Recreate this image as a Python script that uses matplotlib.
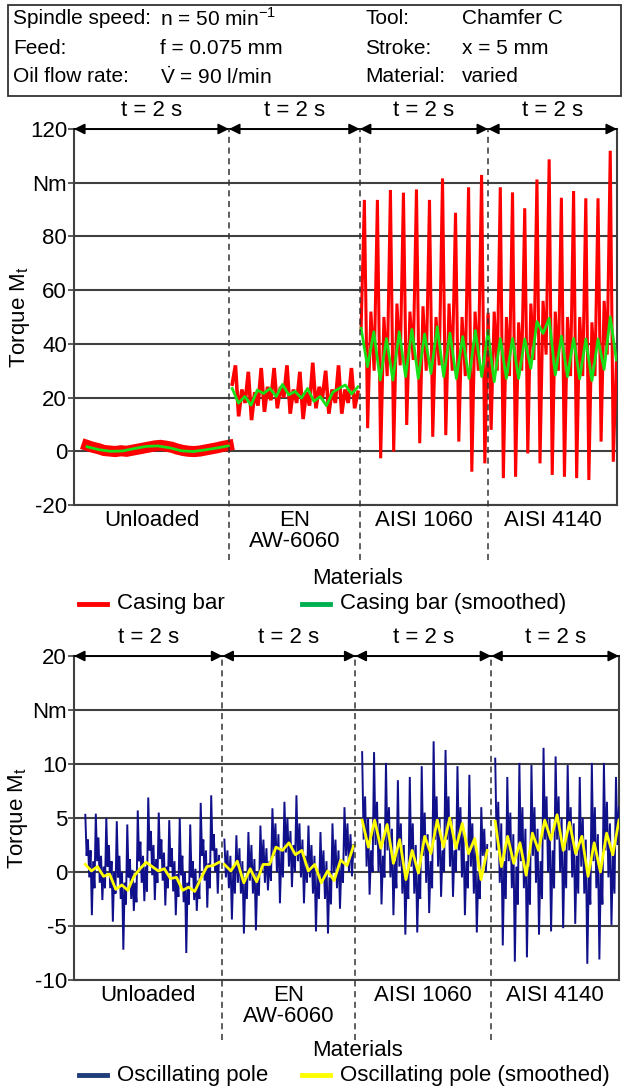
import numpy as np
import matplotlib.pyplot as plt
from matplotlib.lines import Line2D
from matplotlib.patches import Rectangle

plt.rcParams['font.family'] = ['Liberation Sans', 'DejaVu Sans']
plt.rcParams['mathtext.fontset'] = 'custom'
plt.rcParams['mathtext.rm'] = 'Liberation Sans'
plt.rcParams['font.size'] = 16

# --- data ---
materials = ['Unloaded', 'EN\nAW-6060', 'AISI 1060', 'AISI 4140']

# section borders and recorded spans (time axis, s)
top_edges = [0.0, 2.38, 4.39, 6.36, 8.34]
top_spans = [(0.20, 2.37), (2.43, 4.36), (4.41, 6.36), (6.36, 8.33)]
bot_edges = [0.0, 2.23, 4.23, 6.27, 8.19]
bot_spans = [(0.17, 2.18), (2.26, 4.20), (4.33, 6.21), (6.33, 8.19)]

# casing bar, raw torque (Nm)
casing_unloaded = [2.2, 1.5, 1.0, 0.3, 0.1, -0.1, 0.2, 0.0, 0.4, 0.8, 1.2, 1.6, 2.0,
                   2.2, 1.9, 1.5, 0.8, 0.3, 0.0, -0.1, 0.1, 0.5, 0.9, 1.3, 1.8, 2.2]
casing_en = [25, 32, 13, 23, 18, 29.6, 11.6, 22, 17, 31, 14.7, 24, 19, 31, 16, 24, 20,
             32, 14, 23, 18, 29.6, 12, 22, 17, 33, 16, 24, 20, 30, 14, 23, 18, 32, 14,
             23, 18, 31, 16, 22]
casing_1060 = [46, 93.6, 8.6, 52, 30, 93.6, -2.6, 50, 28, 97.3, -0.1, 55, 32, 96.3, 9.8,
               52, 34, 97.5, 3, 54, 30, 93.6, 5.4, 50, 32, 101.6, 6, 55, 30, 88.8, 3.6,
               50, 28, 98.3, -7.6, 52, 30, 102.9, -4.5, 51]
casing_4140 = [50, 8, 52, 30, 98.3, -10, 50, 28, 96.4, -9.5, 48, 30, 90.5, -0.8, 55, 34,
               101.2, -4.5, 56, 36, 108.7, -8.8, 52, 30, 94.4, -9.5, 50, 28, 96.9, -10,
               50, 28, 94.2, -10.7, 48, 28, 94.2, 3.6, 56, 36, 111.9, -3.9, 33]

# casing bar, smoothed
casing_s_unloaded = [1.7, 0.6, 0.0, 0.1, 1.0, 1.8, 2.0, 1.3, 0.2, -0.1, 0.5, 1.2, 2.0]
casing_s_en = [23.4, 17.9, 20.4, 17.2, 22.8, 21.5, 23.4, 20.4, 24.9, 21.0, 22.3, 19.8,
               23.4, 18.6, 20.4, 17.0, 22.0, 23.4, 24.7, 21.3, 24.0]
casing_s_1060 = [45.8, 31.5, 44.5, 26.5, 42.0, 26.5, 44.5, 27.8, 45.4, 27.1, 43.7, 29.0,
                 46.4, 27.8, 44.0, 27.1, 42.7, 27.1, 45.0, 27.8, 45.0]
casing_s_4140 = [43.9, 25.9, 42.0, 27.1, 42.0, 27.1, 41.8, 30.9, 48.3, 43.9, 49.5, 28.4,
                 42.9, 27.8, 42.0, 27.0, 41.8, 26.3, 41.8, 30.5, 50.1, 34.0]

# oscillating pole, raw torque (Nm), one row per revolution
pole_unloaded = sum([
    [5.3, 1.5, 3.0, -0.5, 2.0, -4.0, 1.0, -1.5],
    [5.4, 1.0, 3.2, -1.0, 1.5, -2.6, 0.5, -1.5],
    [5.0, 0.5, 2.5, -1.5, 1.0, -4.6, 0.0, -2.0],
    [4.7, -0.5, 1.5, -2.5, 0.0, -7.2, -1.0, -3.0],
    [4.4, -0.5, 1.2, -2.5, 0.2, -3.6, -1.0, -2.8],
    [5.7, 1.0, 2.8, -1.0, 1.5, -2.7, 0.5, -1.8],
    [6.9, 2.0, 3.8, -0.3, 2.5, -2.6, 1.2, -1.0],
    [5.5, 1.2, 3.0, -0.8, 1.8, -3.1, 0.5, -1.5],
    [4.8, 0.5, 2.2, -1.8, 1.0, -4.0, -0.2, -2.3],
    [5.0, -0.3, 1.5, -2.8, 0.0, -7.5, -1.0, -3.0],
    [4.4, -0.5, 1.0, -2.6, 0.3, -3.6, -0.8, -2.5],
    [6.4, 1.5, 3.0, -0.8, 2.0, -3.3, 0.8, -1.5],
    [7.1, 2.0, 3.5, 0.0, 2.2, -2.0, 1.5]], [])
pole_en = sum([
    [3.0, -0.5, 2.0, -1.5, 1.5, -4.4, 0.5, -2.0],
    [3.4, -1.0, 2.2, -2.0, 1.0, -5.7, -0.5, -2.5],
    [3.7, -0.8, 2.5, -2.0, 1.2, -5.4, 0.0, -2.2],
    [4.3, 0.0, 3.0, -1.0, 2.2, -1.7, 1.0, -0.8],
    [5.9, 1.5, 4.5, 0.0, 3.5, -2.9, 2.0, -0.5],
    [6.5, 1.8, 5.0, 0.5, 3.8, -1.4, 2.5, 0.0],
    [7.1, 1.0, 4.5, -0.5, 3.0, -2.9, 1.5, -1.0],
    [4.3, -0.5, 2.5, -2.0, 1.5, -5.5, 0.0, -2.5],
    [3.7, -1.0, 2.0, -2.5, 1.0, -5.7, -0.5, -3.0],
    [4.5, 0.0, 3.0, -1.5, 2.0, -3.4, 1.0, -1.0],
    [6.0, 1.5, 4.5, 0.0, 3.5, -0.4, 2.5]], [])
pole_1060 = sum([
    [11.1, 3.0, 7.0, 0.5, 5.0, -2.1, 2.0, 0.0],
    [11.1, 2.5, 6.5, 0.0, 4.5, -3.0, 1.5, -0.5],
    [10.1, 2.0, 6.0, -0.5, 4.0, -4.0, 1.0, -1.5],
    [8.5, 0.5, 4.5, -2.0, 2.5, -5.8, 0.0, -2.5],
    [8.8, 0.5, 4.5, -2.0, 2.5, -5.6, 0.0, -2.5],
    [9.8, 1.5, 5.5, -1.0, 3.5, -3.8, 1.0, -1.5],
    [12.1, 3.0, 7.0, 0.5, 5.0, -2.3, 2.0, 0.0],
    [11.3, 3.0, 7.0, 0.5, 5.0, -2.3, 2.0, 0.0],
    [9.8, 2.0, 6.0, -0.5, 4.0, -4.0, 1.0, -1.5],
    [9.0, 0.5, 4.5, -2.0, 2.5, -5.6, 0.0, -2.5],
    [6.0, 1.5, 4.0, 0.0, 2.5]], [])
pole_4140 = sum([
    [10.5, 2.0, 6.5, -1.0, 4.5, -6.8, 1.0, -2.5],
    [8.8, 1.0, 5.5, -1.5, 3.5, -8.3, 0.5, -3.0],
    [10.1, 1.0, 6.0, -1.5, 4.0, -7.9, 0.5, -3.0],
    [9.9, 1.5, 6.0, -1.0, 4.0, -5.8, 1.0, -2.5],
    [11.5, 3.0, 7.0, 0.0, 5.0, -5.5, 2.0, -1.5],
    [10.7, 3.0, 7.0, 0.0, 5.0, -5.2, 2.0, -1.5],
    [9.9, 2.0, 6.0, -0.5, 4.5, -4.8, 1.5, -2.0],
    [8.8, 0.5, 5.0, -2.0, 3.0, -8.5, 0.0, -3.0],
    [10.1, 1.0, 6.0, -1.5, 3.5, -8.1, 0.5, -3.0],
    [10.1, 2.0, 6.5, -0.5, 4.5, -4.9, 1.5, -2.0],
    [8.8, 2.5, 6.0]], [])

# oscillating pole, smoothed
pole_s_unloaded = [0.7, 0.1, 0.5, -0.4, -0.2, -1.6, -1.2, -1.7, -0.4, 0.3, 0.9, 0.5,
                   0.1, 0.3, -0.6, -0.5, -1.7, -1.4, -1.8, -0.6, 0.5, 0.6, 0.9]
pole_s_en = [0.7, 0.1, 1.0, -1.0, 0.3, -0.9, 0.7, 0.7, 2.3, 2.0, 2.7, 1.6, 2.0, 0.1,
             0.7, -1.0, 0.1, -0.8, 1.1, 0.6, 2.4]
pole_s_1060 = [4.8, 2.3, 4.8, 2.2, 4.4, 0.8, 3.0, -0.7, 2.0, -0.1, 3.3, 1.7, 4.8, 2.3,
               5.0, 2.2, 4.5, 1.7, 3.1, -0.7, 2.0]
pole_s_4140 = [4.7, 0.5, 3.3, 0.8, 2.7, -0.3, 3.6, 2.0, 4.8, 3.0, 5.3, 2.0, 4.6, 1.7,
               3.3, -0.4, 2.7, 0.0, 3.6, 1.6, 4.8]

top_ticks = [-20, 0, 20, 40, 60, 80, 100, 120]
top_ticklabels = ['-20', '0', '20', '40', '60', '80', 'Nm', '120']
bot_ticks = [-10, -5, 0, 5, 10, 15, 20]
bot_ticklabels = ['-10', '-5', '0', '5', '10', 'Nm', '20']

header = [('Spindle speed:', 'n = 50 min$^{\\mathregular{-1}}$', 'Tool:', 'Chamfer C'),
          ('Feed:', 'f = 0.075 mm', 'Stroke:', 'x = 5 mm'),
          ('Oil flow rate:', '$\\dot{\\mathrm{V}}$ = 90 l/min', 'Material:', 'varied')]

W, H = 630, 1090
fx = lambda px: px / W
fy = lambda py: 1 - py / H

fig = plt.figure(figsize=(6.3, 10.9), dpi=100)


def panel(ax, edges, spans, raw, smooth, c_raw, c_smooth, lw_raw, ticks, labels, ylim,
          dash_ext, lab_y):
    for i, (a, b) in enumerate(spans):
        ax.plot(np.linspace(a, b, len(raw[i])), raw[i], color=c_raw, lw=lw_raw[i],
                solid_joinstyle='miter', zorder=3)
        ax.plot(np.linspace(a, b, len(smooth[i])), smooth[i], color=c_smooth, lw=2.0,
                zorder=4)
    ax.set_xlim(edges[0], edges[-1])
    ax.set_ylim(*ylim)
    ax.set_yticks(ticks)
    ax.set_yticklabels(labels)
    ax.set_xticks([])
    ax.yaxis.grid(True, color='#404040', lw=1.5)
    ax.set_axisbelow(True)
    ax.tick_params(axis='y', length=4, width=1.2, color='#404040', pad=1)
    for s in ['left', 'right', 'bottom']:
        ax.spines[s].set_color('#404040')
        ax.spines[s].set_linewidth(1.5)
    ax.spines['top'].set_visible(False)
    for e in edges[1:-1]:
        ax.axvline(e, ymin=-dash_ext, ymax=1, color='#333333', lw=1.1,
                   ls=(0, (4, 3)), clip_on=False, zorder=5)
    for i in range(4):
        for p, q in [(edges[i + 1], edges[i]), (edges[i], edges[i + 1])]:
            ax.annotate('', xy=(p, ylim[1]), xytext=(q, ylim[1]),
                        arrowprops=dict(arrowstyle='-|>', color='black', lw=1.2,
                                        mutation_scale=16, shrinkA=0, shrinkB=0),
                        annotation_clip=False)
        mid = (edges[i] + edges[i + 1]) / 2
        ax.annotate('t = 2 s', xy=(mid, ylim[1]), xytext=(0, 6), textcoords='offset points',
                    ha='center', va='bottom', annotation_clip=False)
        ax.text(mid, lab_y, materials[i], transform=ax.get_xaxis_transform(),
                ha='center', va='top', linespacing=1.05)
    ax.set_ylabel('Torque M$_{\\mathregular{t}}$')


ax1 = fig.add_axes([fx(74), fy(505), fx(617) - fx(74), fy(129) - fy(505)])
panel(ax1, top_edges, top_spans,
      [casing_unloaded, casing_en, casing_1060, casing_4140],
      [casing_s_unloaded, casing_s_en, casing_s_1060, casing_s_4140],
      '#ff0000', '#18e018', [8, 2.6, 2.2, 2.2], top_ticks, top_ticklabels, (-20, 120),
      0.146, -0.012)
ax1.yaxis.set_label_coords(-0.077, 0.5)

ax2 = fig.add_axes([fx(74), fy(980), fx(619) - fx(74), fy(656) - fy(980)])
panel(ax2, bot_edges, bot_spans,
      [pole_unloaded, pole_en, pole_1060, pole_4140],
      [pole_s_unloaded, pole_s_en, pole_s_1060, pole_s_4140],
      '#10108a', '#ffff00', [1.4, 1.4, 1.4, 1.4], bot_ticks, bot_ticklabels, (-10, 20),
      0.185, -0.014)
ax2.yaxis.set_label_coords(-0.081, 0.5)

# axis titles
fig.text(fx(357), fy(578), 'Materials', ha='center', va='center')
fig.text(fx(357), fy(1050), 'Materials', ha='center', va='center')

# legends
legend_rows = [(604, [('#ff0000', 'Casing bar'), ('#00b050', 'Casing bar (smoothed)')]),
               (1075, [('#1f3d7a', 'Oscillating pole'), ('#ffff00', 'Oscillating pole (smoothed)')])]
for y, items in legend_rows:
    for (c, t), x0 in zip(items, [79, 302]):
        fig.add_artist(Line2D([fx(x0), fx(x0 + 28)], [fy(y), fy(y)], color=c, lw=3.5))
        fig.text(fx(x0 + 38), fy(y), t, ha='left', va='center')

# parameter box
fig.add_artist(Rectangle((fx(8), fy(96)), fx(621) - fx(8), fy(5) - fy(96), fill=False,
                         lw=1.3, ec='#333333'))
for row, y in zip(header, [19, 48, 77]):
    for txt, x in zip(row, [13, 160, 365, 462]):
        fig.text(fx(x), fy(y), txt, ha='left', va='center', fontsize=15)

fig.savefig('out.png', dpi=100)
